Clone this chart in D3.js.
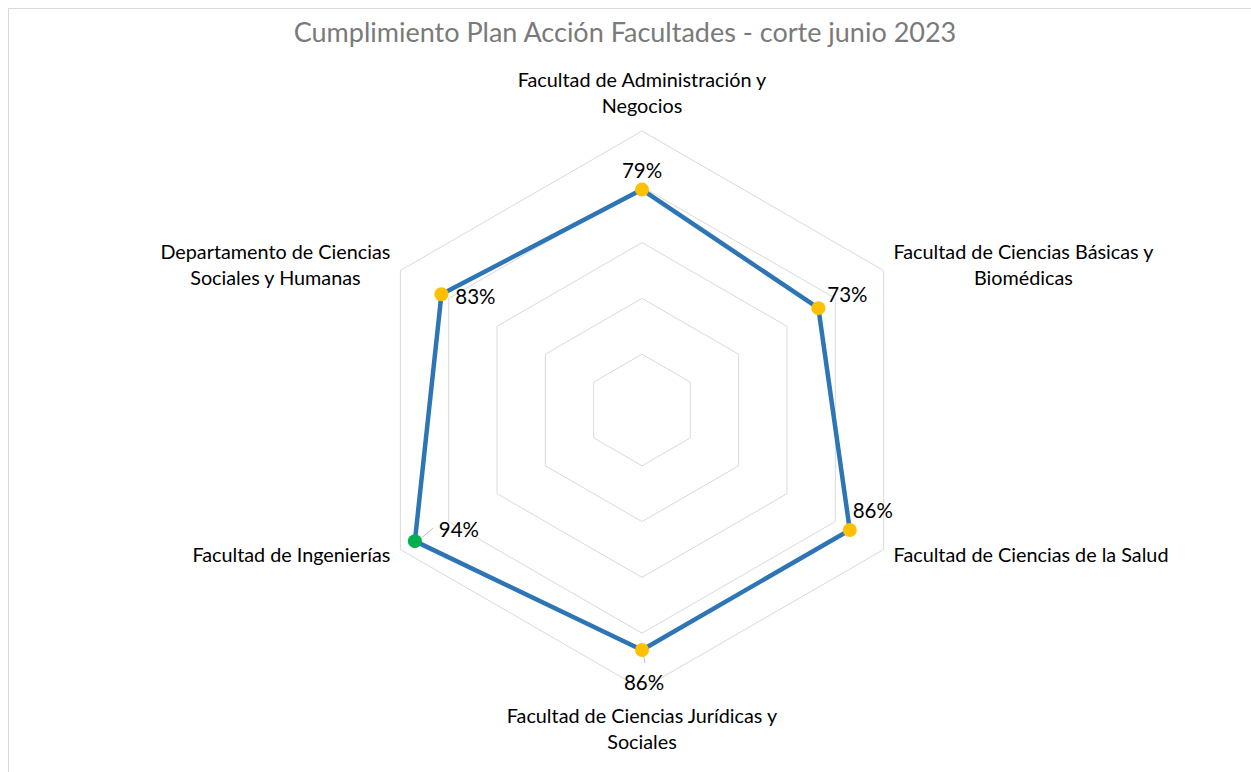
<!DOCTYPE html>
<html>
<head>
<meta charset="utf-8">
<script src="https://cdn.jsdelivr.net/npm/d3@7"></script>
<style>
  body { margin: 0; background: #fff; }
  text { font-family: Lato, "Open Sans", sans-serif; }
</style>
</head>
<body>
<div id="chart"></div>
<script>
var categories = [
	["Facultad de Administración y", "Negocios"],
	["Facultad de Ciencias Básicas y", "Biomédicas"],
	["Facultad de Ciencias de la Salud"],
	["Facultad de Ciencias Jurídicas y", "Sociales"],
	["Facultad de Ingenierías"],
	["Departamento de Ciencias", "Sociales y Humanas"]
];
var values = [0.79, 0.73, 0.86, 0.86, 0.94, 0.83];
var markerColors = ["#ffc000", "#ffc000", "#ffc000", "#ffc000", "#00b050", "#ffc000"];
var gridLevels = [0.2, 0.4, 0.6, 0.8, 1.0];
var title = "Cumplimiento Plan Acción Facultades - corte junio 2023";

var W = 1251, H = 772;
var cx = 642, cy = 410, R = 279;

var svg = d3.select("#chart").append("svg")
	.attr("width", W).attr("height", H);

// chart area border
svg.append("rect")
	.attr("x", 8.5).attr("y", 8.5)
	.attr("width", W + 20).attr("height", H + 20)
	.attr("fill", "none").attr("stroke", "#d9d9d9").attr("stroke-width", 1);

svg.append("text")
	.attr("x", 625).attr("y", 42)
	.attr("text-anchor", "middle")
	.attr("font-size", 27)
	.attr("fill", "#7a7a7a")
	.text(title);

var n = categories.length;
var angle = d3.scaleLinear().domain([0, n]).range([0, 2 * Math.PI]);
var r = d3.scaleLinear().domain([0, 1]).range([0, R]);

function pt(i, v) {
	var a = angle(i);
	return [cx + r(v) * Math.sin(a), cy - r(v) * Math.cos(a)];
}

var g = svg.append("g");

// grid hexagons
g.selectAll("polygon.grid")
	.data(gridLevels)
	.enter()
	.append("polygon")
	.attr("class", "grid")
	.attr("points", function(lv) {
		return d3.range(n).map(function(i) { return pt(i, lv).join(","); }).join(" ");
	})
	.attr("fill", "none")
	.attr("stroke", "#d9d9d9")
	.attr("stroke-width", 1);

// series line
var line = d3.line().curve(d3.curveLinearClosed);
g.append("path")
	.attr("d", line(values.map(function(v, i) { return pt(i, v); })))
	.attr("fill", "none")
	.attr("stroke", "#2e75b6")
	.attr("stroke-width", 4.5)
	.attr("stroke-linejoin", "round");

// leader lines for a few data labels
var leaders = [
	{ i: 4, dx1: 3, dy1: -13, dx2: 18, dy2: -13 },
	{ i: 3, dx1: 1, dy1: 3, dx2: 3, dy2: 13 }
];
g.selectAll("line.leader")
	.data(leaders)
	.enter()
	.append("line")
	.attr("x1", function(d) { return pt(d.i, values[d.i])[0] + d.dx1; })
	.attr("y1", function(d) { return pt(d.i, values[d.i])[1] + (d.i == 4 ? 0 : d.dy1); })
	.attr("x2", function(d) { return pt(d.i, values[d.i])[0] + d.dx2; })
	.attr("y2", function(d) { return pt(d.i, values[d.i])[1] + d.dy2; })
	.attr("stroke", "#bfbfbf").attr("stroke-width", 1);

// markers
g.selectAll("circle.marker")
	.data(values)
	.enter()
	.append("circle")
	.attr("cx", function(d, i) { return pt(i, d)[0]; })
	.attr("cy", function(d, i) { return pt(i, d)[1]; })
	.attr("r", 7)
	.attr("fill", function(d, i) { return markerColors[i]; });

// data labels: offsets from the point
var labelOffsets = [[0, -12], [29, -6], [23, -12], [2, 40], [44, -4], [34, 10]];
g.selectAll("text.val")
	.data(values)
	.enter()
	.append("text")
	.attr("x", function(d, i) { return pt(i, d)[0] + labelOffsets[i][0]; })
	.attr("y", function(d, i) { return pt(i, d)[1] + labelOffsets[i][1]; })
	.attr("text-anchor", "middle")
	.attr("font-size", 20.5)
	.attr("fill", "#000")
	.text(function(d) { return d3.format(".0%")(d); });

// category labels
var lineH = 26;
categories.forEach(function(lines, i) {
	var p = pt(i, 1);
	var a = angle(i);
	var sx = Math.sin(a), sy = -Math.cos(a);
	var t = svg.append("text").attr("font-size", 19.8).attr("fill", "#000");
	lines.forEach(function(l) { t.append("tspan").text(l); });
	var widths = [];
	t.selectAll("tspan").each(function() { widths.push(this.getComputedTextLength()); });
	var bw = d3.max(widths);
	var bh = lines.length * lineH;
	var bx, by;
	if (Math.abs(sx) < 0.01) {
		bx = p[0] - bw / 2;
		by = sy < 0 ? p[1] - 12 - bh : p[1] + 14;
	} else {
		bx = sx > 0 ? p[0] + 10 : p[0] - 10 - bw;
		by = p[1] - bh / 2 + (sy > 0 ? 5 : -6);
	}
	t.selectAll("tspan")
		.attr("text-anchor", "middle")
		.attr("x", bx + bw / 2)
		.attr("y", function(d, k) { return by + k * lineH + 20; });
});
</script>
</body>
</html>
